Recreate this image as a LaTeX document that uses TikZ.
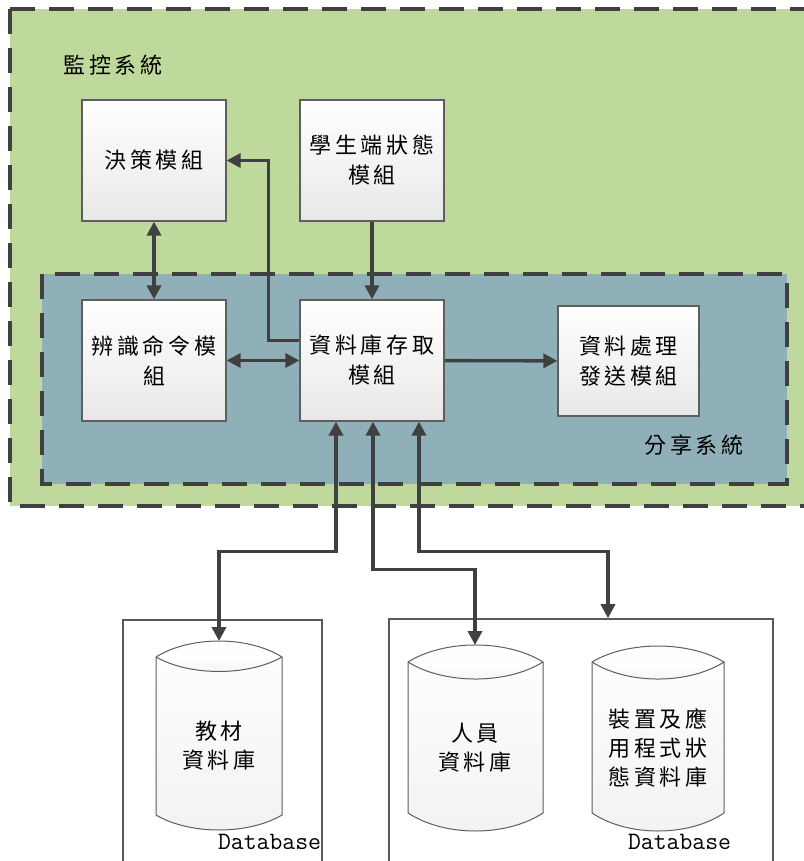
\documentclass[tikz,border=0pt]{standalone}
\usepackage{fontspec}
\newfontfamily\cjk[LetterSpace=16]{Noto Sans CJK TC}
\usetikzlibrary{arrows.meta,calc}
\definecolor{grn}{HTML}{BED99B}
\definecolor{blu}{HTML}{90B0B9}
\definecolor{dk}{HTML}{404040}
\definecolor{bord}{HTML}{5E5E5E}
\begin{document}
\begin{tikzpicture}[x=1pt,y=-1pt,
  sysbox/.style={draw=dk, line width=4pt, dash pattern=on 25pt off 14pt},
  modbox/.style={draw=bord, line width=1.2pt, top color=white, bottom color=gray!18,
    minimum width=144pt, minimum height=121pt, inner sep=0pt,
    font=\cjk\fontsize{22}{30}\selectfont, align=center},
  lbl/.style={font=\cjk\fontsize{22}{30}\selectfont, inner sep=0pt},
  dbbox/.style={draw=gray!70!black, line width=1.6pt, fill=white, inner sep=0pt},
  cyl/.style={draw=bord, line width=1pt, top color=white, bottom color=gray!10},
  cyltext/.style={font=\cjk\fontsize{22}{29}\selectfont, align=center, inner sep=0pt},
  dblbl/.style={font=\ttfamily\fontsize{25}{25}\selectfont, inner sep=0pt},
  conn/.style={draw=dk, line width=3.4pt},
  tipend/.style={-{Triangle[length=14pt,width=14pt]}},
  tipboth/.style={{Triangle[length=14pt,width=14pt]}-{Triangle[length=14pt,width=14pt]}}]
\useasboundingbox (0,0) rectangle (803,861);
% system areas
\fill[grn] (10,9) rectangle (806,506);
\draw[sysbox] (10,9) -- (806,9);
\draw[sysbox] (10,9) -- (10,506) -- (806,506);
\fill[blu] (42,274) rectangle (787,484);
\draw[sysbox] (42,274) rectangle (787,484);
\node[lbl] (mon) at (113,65) {監控系統};
\node[lbl] (share) at (694,445) {分享系統};
% modules
\node[modbox] (dec) at (154,160.5) {決策模組};
\node[modbox] (stu) at (372,160.5) {學生端狀態\\模組};
\node[modbox] (rec) at (154,360.5) {辨識命令模\\組};
\node[modbox] (dba) at (372,360.5) {資料庫存取\\模組};
\node[modbox, minimum width=141pt, minimum height=110pt] (proc) at (628.5,361) {資料處理\\發送模組};
% database boxes
\node[dbbox, minimum width=199pt, minimum height=252pt] (dbb1) at (222.5,746) {};
\node[dbbox, minimum width=384pt, minimum height=252pt] (dbb2) at (581,745) {};
% cylinders
\draw[cyl] (156,657) .. controls (190,635.7) and (248,635.7) .. (282,657) -- (282,815)
  .. controls (248,835) and (190,835) .. (156,815) -- cycle;
\draw[cyl] (156,657) .. controls (190,676.3) and (248,676.3) .. (282,657);
\draw[cyl] (408,662) .. controls (444.5,639.3) and (506.5,639.3) .. (543,662) -- (543,813)
  .. controls (506.5,837) and (444.5,837) .. (408,813) -- cycle;
\draw[cyl] (408,662) .. controls (444.5,684.7) and (506.5,684.7) .. (543,662);
\draw[cyl] (592,662) .. controls (627.6,640.7) and (688.4,640.7) .. (724,662) -- (724,813)
  .. controls (688.4,837) and (627.6,837) .. (592,813) -- cycle;
\draw[cyl] (592,662) .. controls (627.6,684.7) and (688.4,684.7) .. (724,662);
\coordinate (c1top) at (219,641);
\coordinate (c2top) at (475,645);
\node[cyltext] (t1) at (219,746) {教材\\資料庫};
\node[cyltext] (t2) at (475,748) {人員\\資料庫};
\node[cyltext] (t3) at (658,748) {裝置及應\\用程式狀\\態資料庫};
\node[dblbl] (dl1) at (269.5,842) {Database};
\node[dblbl] (dl2) at (679.5,842) {Database};
% connectors
\draw[conn,tipboth] (dec) -- (rec);
\draw[conn,tipend] (stu) -- (dba);
\draw[conn,tipend] ([yshift=20pt]dba.west) -| ([xshift=42pt]dec.east) -- (dec.east);
\draw[conn,tipboth] (rec) -- (dba);
\draw[conn,tipend] (dba) -- (proc);
\draw[conn,tipboth] ([xshift=-36pt]dba.south) -- ++(0,130) -| (c1top);
\draw[conn,tipboth] ([xshift=1pt]dba.south) -- ++(0,148) -| (c2top);
\draw[conn,tipboth] ([xshift=47pt]dba.south) -- ++(0,130) -| ([xshift=27pt]dbb2.north);
\end{tikzpicture}
\end{document}
